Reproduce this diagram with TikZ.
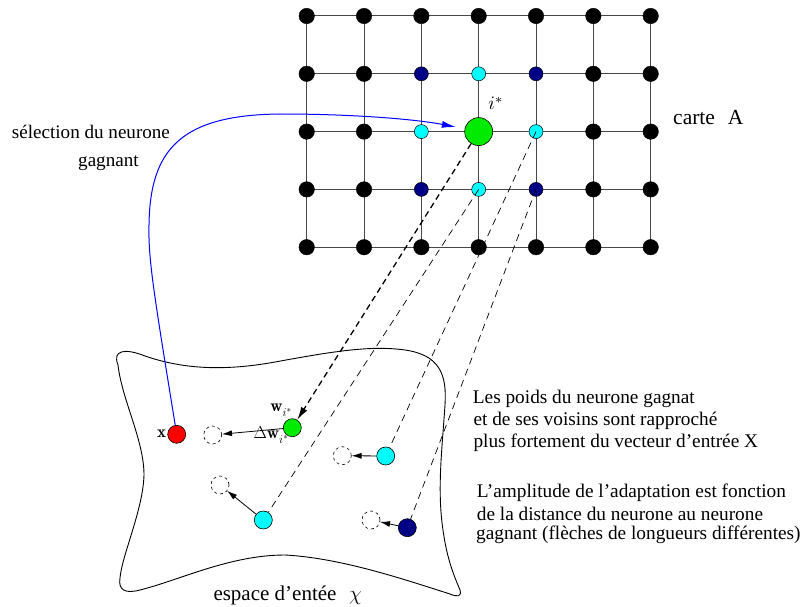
\documentclass[tikz,border=0pt]{standalone}
\usepackage[no-math]{fontspec}
\setmainfont{Liberation Serif}
\usetikzlibrary{arrows.meta}
\definecolor{cyanA}{RGB}{0,255,255}
\definecolor{navyA}{RGB}{0,0,135}
\definecolor{greenA}{RGB}{0,235,0}
\definecolor{redA}{RGB}{255,0,0}
\definecolor{blueA}{RGB}{0,0,255}
\newcommand{\bfvec}[1]{{\fontfamily{lmr}\bfseries\selectfont #1}}
\newcommand{\istarsub}{\raisebox{-0.3em}{\fontsize{13}{14}\selectfont$i^{*}$}}
\begin{document}
\begin{tikzpicture}[x=1pt,y=-1pt,
  gridline/.style={line width=1pt,draw=black!72},
  dot/.style={circle,draw=black,fill=black,inner sep=0pt,minimum size=15.5pt},
  nb/.style={circle,draw=black,line width=0.5pt,inner sep=0pt,minimum size=14pt},
  gbig/.style={circle,draw=black,line width=0.6pt,fill=greenA,inner sep=0pt,minimum size=28pt},
  wn/.style={circle,draw=black,line width=0.6pt,inner sep=0pt,minimum size=18pt},
  ghost/.style={circle,draw=black,line width=0.6pt,dash pattern=on 3pt off 3pt,inner sep=0pt,minimum size=18pt},
  mv/.style={line width=0.8pt,-{Latex[length=10pt,width=6pt]}},
  thickdash/.style={line width=1.3pt,dash pattern=on 6pt off 4pt,-{Latex[length=13pt,width=7pt]}},
  thindash/.style={line width=0.7pt,dash pattern=on 7pt off 5pt},
  blueline/.style={line width=1pt,draw=blueA,-{Latex[length=14pt,width=7pt]}},
  txt/.style={inner sep=0pt,anchor=base west,font=\fontsize{19.3}{22}\selectfont},
  mlbl/.style={inner sep=0pt,anchor=base,font=\fontsize{17}{20}\selectfont}]
\useasboundingbox (0,0) rectangle (803,607);

% grid
\foreach \i in {0,...,6}{\foreach \j in {0,...,4}{%
  \coordinate (p-\i-\j) at ({306.7+57.33*\i},{16+57.8*\j});}}
\foreach \j in {0,...,4} \draw[gridline] (p-0-\j) -- (p-6-\j);
\foreach \i in {0,...,6} \draw[gridline] (p-\i-0) -- (p-\i-4);
\foreach \i in {0,...,6}{\foreach \j in {0,...,4}{%
  \pgfmathtruncatemacro\inblk{(\i>=2)&&(\i<=4)&&(\j>=1)&&(\j<=3)}%
  \ifnum\inblk=0 \node[dot] (n-\i-\j) at (p-\i-\j) {};\fi}}
\node[nb,fill=navyA] (n-2-1) at (p-2-1) {};
\node[nb,fill=navyA] (n-4-1) at (p-4-1) {};
\node[nb,fill=navyA] (n-2-3) at (p-2-3) {};
\node[nb,fill=navyA] (n-4-3) at (p-4-3) {};
\node[nb,fill=cyanA] (n-3-1) at (p-3-1) {};
\node[nb,fill=cyanA] (n-2-2) at (p-2-2) {};
\node[nb,fill=cyanA] (n-4-2) at (p-4-2) {};
\node[nb,fill=cyanA] (n-3-3) at (p-3-3) {};
\node[gbig] (gi) at (p-3-2) {};
\node[mlbl] (istar) at (496,110) {\scalebox{1.9}{\normalsize$i^*$}};
\node[txt,font=\fontsize{21.5}{24}\selectfont] (carte) at (673,125) {carte\hspace{0.6em}A};

% input space
\draw[line width=0.9pt] (118,365) .. controls (112,350) and (125,348) .. (145,356)
 .. controls (180,368) and (220,372) .. (275,362)
 .. controls (330,352) and (370,345) .. (405,350)
 .. controls (440,355) and (447,375) .. (445,405)
 .. controls (442,450) and (437,490) .. (443,530)
 .. controls (447,560) and (455,578) .. (460,590)
 .. controls (462,597) and (457,597) .. (450,594)
 .. controls (400,578) and (340,558) .. (285,555)
 .. controls (230,555) and (180,580) .. (140,590)
 .. controls (125,594) and (118,590) .. (120,578)
 .. controls (122,555) and (143,510) .. (144,475)
 .. controls (144,440) and (122,400) .. (118,365) -- cycle;

\node[wn,fill=redA] (x) at (176.7,434.3) {};
\node[ghost] (xd) at (212.7,435) {};
\node[wn,fill=greenA] (w) at (292.3,427.7) {};
\node[wn,fill=cyanA] (c1) at (385.7,456) {};
\node[ghost] (c1d) at (342.3,455.7) {};
\node[wn,fill=cyanA] (c2) at (263.3,520) {};
\node[ghost] (c2d) at (220,485) {};
\node[wn,fill=navyA] (nv) at (407.3,527.7) {};
\node[ghost] (nvd) at (371,520) {};

\node[mlbl] (xl) at (161.7,437.3) {\bfvec{x}};
\node[mlbl] (wl) at (281,411.7) {\bfvec{w}\istarsub};
\node[mlbl] (dwl) at (271,438.5) {$\Delta$\bfvec{w}\istarsub};

\draw[mv] (w) -- (xd);
\draw[mv] (c1) -- (c1d);
\draw[mv] (c2) -- (c2d);
\draw[mv] (nv) -- (nvd);

\draw[thickdash] (gi) -- (w);
\draw[thindash] (n-4-2.center) -- (c1);
\draw[thindash] (n-3-3.center) -- (c2);
\draw[thindash] (n-4-3.center) -- (nv);

\draw[blueline,shorten >=9pt] (x) .. controls (155,300) and (148,260) .. (149,225)
  .. controls (150,150) and (180,115) .. (280,114)
  .. controls (360,114) and (420,120) .. (gi);

% texts
\node[txt,font=\fontsize{19.1}{22}\selectfont] (sel1) at (11.7,138.3) {sélection du neurone};
\node[txt,font=\fontsize{19.1}{22}\selectfont] (sel2) at (78,166.7) {gagnant};
\node[txt] (r1) at (472.7,403) {Les poids du neurone gagnat};
\node[txt] (r2) at (473.3,425) {et de ses voisins sont rapproché};
\node[txt] (r3) at (473.3,447) {plus fortement du vecteur d’entrée X};
\node[txt] (s1) at (476.7,497) {L’amplitude de l’adaptation est fonction};
\node[txt] (s2) at (476.7,520.7) {de la distance du neurone au neurone};
\node[txt] (s3) at (476,539) {gagnant (flèches de longueurs différentes)};
\node[txt,font=\fontsize{21}{24}\selectfont] (esp) at (213.3,600) {espace d’entée\hspace{0.6em}$\chi$};
\end{tikzpicture}
\end{document}
